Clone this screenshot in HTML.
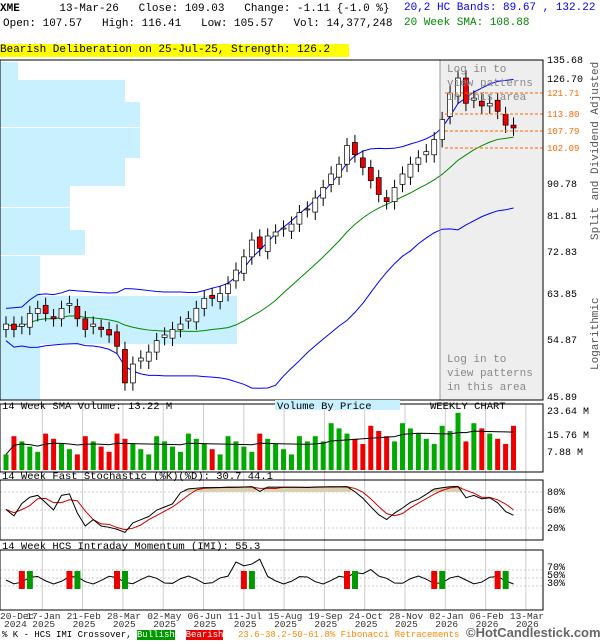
<!DOCTYPE html><html><head><style>
body{margin:0;background:#fff;width:600px;height:640px;overflow:hidden;font-family:"Liberation Mono","DejaVu Sans Mono",monospace;position:relative}
.t{position:absolute;font-size:11px;white-space:pre;line-height:12px}
</style></head><body>
<div class="t" style="left:0;top:3px"><b>XME</b>      13-Mar-26   Close: 109.03   Change: -1.11 {-1.0 %}</div>
<div class="t" style="left:3px;top:18px">Open: 107.57   High: 116.41   Low: 105.57   Vol: 14,377,248</div>
<div class="t" style="left:404px;top:2px;color:#00f">20,2 HC Bands: 89.67 , 132.22</div>
<div class="t" style="left:404px;top:17px;color:#080">20 Week SMA: 108.88</div>
<div class="t" style="left:0;top:44px;width:349px;height:13px;background:#ff0">Bearish Deliberation on 25-Jul-25, Strength: 126.2</div>
<svg id="s" width="600" height="640" style="position:absolute;left:0;top:0" xmlns="http://www.w3.org/2000/svg" font-family="Liberation Mono,monospace" font-size="10">
<rect x="440" y="60" width="103" height="340" fill="#eee"/>
<g id="vbp" fill="#c8f0ff"></g>
<g id="grid" stroke="#ccc"></g>
<g id="c"></g>
<rect x="0" y="60" width="543" height="340" fill="none" stroke="#000"/>
<rect x="0" y="404" width="543" height="68" fill="none" stroke="#000"/>
<rect x="0" y="480" width="543" height="60" fill="none" stroke="#000"/>
<rect x="0" y="550" width="543" height="60" fill="none" stroke="#000"/>
<g fill="#000">
<text x="547" y="63">135.68</text><text x="547" y="82">126.70</text><text x="547" y="187">90.78</text><text x="547" y="219">81.81</text><text x="547" y="255">72.83</text><text x="547" y="297">63.85</text><text x="547" y="343">54.87</text><text x="547" y="400">45.89</text>
<text x="547" y="414">23.64 M</text><text x="547" y="438">15.76 M</text><text x="547" y="455">7.88 M</text>
<text x="547" y="495">80%</text><text x="547" y="513">50%</text><text x="547" y="531">20%</text>
<text x="547" y="570">70%</text><text x="547" y="578">50%</text><text x="547" y="586">30%</text>
</g>
<g fill="#f60" font-size="9"><text x="547" y="96">121.71</text><text x="547" y="117">113.80</text><text x="547" y="134">107.79</text><text x="547" y="151">102.09</text></g>
<text x="598" y="240" transform="rotate(-90 598 240)" fill="#555" font-size="11">Split and Dividend Adjusted</text>
<text x="598" y="370" transform="rotate(-90 598 370)" fill="#555" font-size="11">Logarithmic</text>
<g fill="#888" font-size="11"><text x="447" y="72">Log in to</text><text x="447" y="86">view patterns</text><text x="447" y="100">in this area</text>
<text x="447" y="362">Log in to</text><text x="447" y="376">view patterns</text><text x="447" y="390">in this area</text></g>
<rect x="275" y="400" width="125" height="10" fill="#c8f0ff"/>
<g font-size="10.5"><text x="2" y="409">14 Week SMA Volume: 13.22 M</text><text x="277" y="409">Volume By Price</text><text x="430" y="409">WEEKLY CHART</text>
<text x="2" y="479">14 Week Fast Stochastic (%K)(%D): 30.7 44.1</text>
<text x="2" y="549">14 Week HCS Intraday Momentum (IMI): 55.3</text></g>
<g id="xl" fill="#333" font-size="9.5"></g>
</svg>
<div class="t" style="left:2px;top:629px;font-size:9px">% K - HCS IMI Crossover, <span style="background:#090;color:#fff">Bullish</span>  <span style="background:#e00;color:#fff">Bearish</span></div>
<div class="t" style="left:238px;top:629px;font-size:9px;color:#f80">23.6-38.2-50-61.8% Fibonacci Retracements</div>
<div class="t" style="left:466px;top:627px;font-size:13px;color:#666;font-family:'Liberation Sans',sans-serif;background:#fff"><b>©HotCandlestick.com</b></div>
<script>
var C=[58,57,58,60,61,60,59,61,62,59,57,58,57,56,54,48,51,52,53,55,56,57,58,59,61,63,63,64,66,69,72,76,74,77,78,79,80,83,84,87,90,94,97,103,100,96,92,88,86,90,94,97,99,101,105,112,122,128,118,120,117,118,115,110,109];
function Y(p){return 60+(4.910-Math.log(p))/0.003217}
function X(i){return 6+i*7.93}
var s='',n=C.length;
function ln(pts,col){return '<polyline fill="none" stroke="'+col+'" points="'+pts.join(' ')+'"/>'}
var sma=[],up=[],lo=[];
for(var i=0;i<n;i++){var a=C.slice(Math.max(0,i-19),i+1),m=a.reduce((x,y)=>x+y)/a.length;var sd=Math.sqrt(a.reduce((x,y)=>x+(y-m)*(y-m),0)/a.length)+m*0.04;
sma.push(X(i)+','+Y(m));up.push(X(i)+','+Y(m+1.3*sd));lo.push(X(i)+','+Y(Math.max(m-1.3*sd,30)));}
s+=ln(up,'#00f')+ln(lo,'#00f')+ln(sma,'#080');
var vol='',vs=[],V=[],sto=[],sto2=[],im=[],K=[],fill='';
for(i=0;i<n;i++){var c=C[i],o=i?C[i-1]*(1+(i%3-1)*0.01):57,h=Math.max(o,c)*1.025,l=Math.min(o,c)*0.975,x=X(i);
var dn=c<o;s+='<line x1="'+x+'" x2="'+x+'" y1="'+Y(h)+'" y2="'+Y(l)+'" stroke="#000"/>';
var y1=Y(Math.max(o,c)),y2=Y(Math.min(o,c));s+='<rect x="'+(x-2.5)+'" y="'+y1+'" width="5" height="'+Math.max(1,y2-y1)+'" fill="'+(dn?'#e00':'#fff')+'" stroke="#000" stroke-width=".7"/>';
var v=6+((i*7)%9)+(i>38?4:0)+(i==57?9:0);V.push(v);vol+='<rect x="'+(x-2.5)+'" y="'+(470-v*2.6)+'" width="5" height="'+(v*2.6)+'" fill="'+(dn?'#e00':'#0a0')+'"/>';
var w=C.slice(Math.max(0,i-13),i+1),hh=Math.max(...w)*1.03,ll=Math.min(...w)*0.97;var k=(c-ll)/(hh-ll);K.push(k);
var ky=537-k*55;sto.push(x+','+ky);if(ky<492)fill+='<rect x="'+(x-4)+'" y="'+ky+'" width="8" height="'+(492-ky)+'"/>';
var d=K.slice(Math.max(0,i-2)).reduce((p,q)=>p+q)/Math.min(3,i+1);sto2.push(x+','+(537-d*55));
var vv=V.slice(Math.max(0,i-13)).reduce((p,q)=>p+q)/Math.min(14,i+1);vs.push(x+','+(470-vv*2.6));
im.push(x+','+(580+4*Math.sin(i*1.3)-(i>28&&i<33?18:0)-(i>43&&i<47?10:0)));}
s+=vol+ln(vs,'#000');
s+='<g fill="#d8d0b0">'+fill+'</g>';
s+=ln(sto2,'#c00')+ln(sto,'#000')+ln(im,'#000');
[[2,1],[8,1],[14,0],[30,0],[43,0],[54,0],[62,0]].forEach(function(a){var x=X(a[0]);s+='<rect x="'+(x-3)+'" y="571" width="6" height="18" fill="#e00"/><rect x="'+(x+5)+'" y="571" width="6" height="18" fill="#090"/>'});
s+='<line x1="440" y1="60" x2="440" y2="400" stroke="#999"/>';
[93,114,131,148].forEach(function(y){s+='<line x1="445" x2="543" y1="'+y+'" y2="'+y+'" stroke="#f60" stroke-dasharray="3,2"/>'});
var vb=[[62,18,40],[80,125,22],[102,140,25],[128,140,30],[158,125,28],[185,70,22],[208,70,22],[230,85,25],[256,40,40],[296,237,48],[344,40,56]];
var v2='';vb.forEach(function(b){v2+='<rect x="0" y="'+b[0]+'" width="'+b[1]+'" height="'+b[2]+'"/>'});
document.getElementById('vbp').innerHTML=v2;
var g='',xl='';var L=['20-Dec','17-Jan','21-Feb','28-Mar','02-May','06-Jun','11-Jul','15-Aug','19-Sep','24-Oct','28-Nov','02-Jan','06-Feb','13-Mar'],Yr=['2024','2025','2025','2025','2025','2025','2025','2025','2025','2025','2025','2026','2026','2026'];
for(i=0;i<14;i++){var x=i*40.3;if(i)g+='<line x1="'+(x+2)+'" x2="'+(x+2)+'" y1="404" y2="610"/>';xl+='<text x="'+(i?x-14:0)+'" y="619">'+L[i]+'</text><text x="'+(i?x-8:4)+'" y="627">'+Yr[i]+'</text>';}
[492,510,528,570,578,586].forEach(function(y){g+='<line x1="0" x2="543" y1="'+y+'" y2="'+y+'" stroke-dasharray="2,2"/>'});
document.getElementById('grid').innerHTML=g;
document.getElementById('xl').innerHTML=xl;
document.getElementById('c').innerHTML=s;
</script>
</body></html>
